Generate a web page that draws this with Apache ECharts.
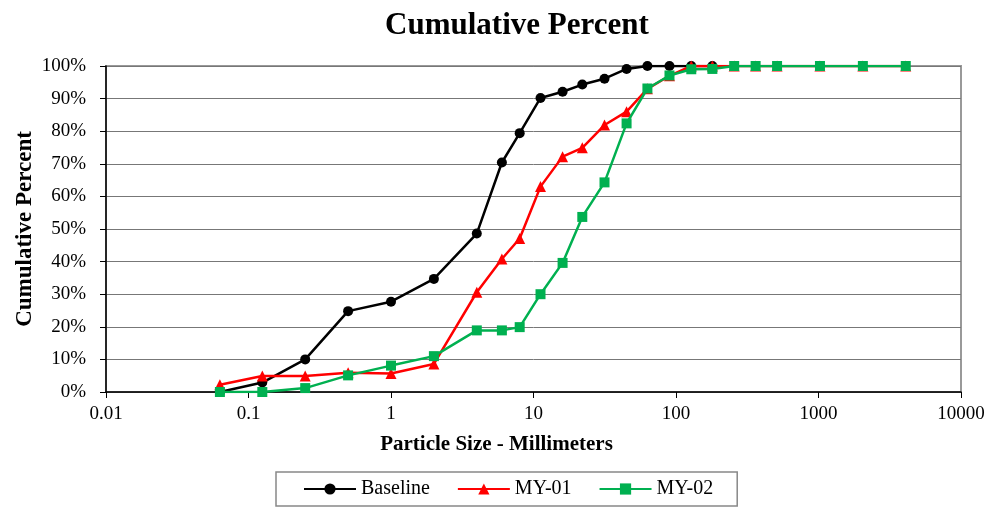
<!DOCTYPE html>
<html>
<head>
<meta charset="utf-8">
<script src="https://cdn.jsdelivr.net/npm/echarts@6/dist/echarts.min.js"></script>
<style>
  html, body { margin: 0; padding: 0; background: #fff; }
  #chart { width: 1003px; height: 507px; }
</style>
</head>
<body>
<div id="chart"></div>
<script>
// sieve sizes, mm
const sizes = [0.063, 0.125, 0.25, 0.5, 1, 2, 4, 6, 8, 11.2, 16, 22, 31.5, 45, 63, 90, 128, 180, 256, 362, 512, 1024, 2048, 4096]
// cumulative percent passing
const baseline = [0, 2.9, 10, 24.8, 27.7, 34.7, 48.6, 70.4, 79.4, 90.2, 92.1, 94.3, 96.1, 99.1, 100, 100, 100, 100]
const my01 = [2.2, 4.9, 4.9, 5.9, 5.7, 8.6, 30.6, 40.8, 47.1, 63, 72.2, 74.9, 81.9, 86, 93, 97, 100, 100, 100, 100, 100, 100, 100, 100]
const my02 = [0, 0, 1.2, 5.1, 8.1, 11, 18.9, 18.9, 19.9, 30, 39.6, 53.7, 64.3, 82.4, 93.1, 97.1, 99, 99.1, 100, 100, 100, 100, 100, 100]
const xTicks = ['0.01', '0.1', '1', '10', '100', '1000', '10000']

const font = "'Liberation Serif', 'Times New Roman', serif"

function pairs(vals) {
  return vals.map((v, i) => [sizes[i], v])
}

const chart = echarts.init(document.getElementById('chart'))

chart.setOption({
  animation: false,
  textStyle: { fontFamily: font },
  title: {
    text: 'Cumulative Percent',
    left: 380,
    top: 5,
    textStyle: { fontFamily: font, fontSize: 31, fontWeight: 'bold', color: '#000' },
  },
  grid: {
    left: 106,
    right: 42,
    top: 66,
    bottom: 115,
    show: true,
    borderColor: '#999',
    borderWidth: 2,
  },
  legend: {
    left: 276,
    top: 472,
    padding: [7, 24, 7, 27],
    itemGap: 27,
    itemWidth: 52,
    itemHeight: 14,
    borderColor: '#888',
    borderWidth: 1.5,
    textStyle: { fontFamily: font, fontSize: 20, color: '#000' },
    data: ['Baseline', 'MY-01', 'MY-02'],
  },
  xAxis: {
    type: 'log',
    logBase: 10,
    min: 0.01,
    max: 10000,
    name: 'Particle Size - Millimeters',
    nameLocation: 'middle',
    nameGap: 42,
    nameTextStyle: {
      fontFamily: font, fontSize: 21, fontWeight: 'bold', color: '#000',
      padding: [0, 74, 0, 0],
    },
    axisLine: { lineStyle: { color: '#000', width: 1.5 } },
    axisTick: { show: true, length: 6, lineStyle: { color: '#000' } },
    minorTick: { show: false },
    splitLine: { show: false },
    axisLabel: {
      fontFamily: font,
      fontSize: 19,
      color: '#000',
      margin: 13,
      formatter: v => {
        const i = Math.round(Math.log10(v)) + 2
        return xTicks[i] !== undefined ? xTicks[i] : ''
      },
    },
  },
  yAxis: {
    type: 'value',
    min: 0,
    max: 100,
    interval: 10,
    name: 'Cumulative Percent',
    nameLocation: 'middle',
    nameGap: 69,
    nameMoveOverlap: false,
    nameTextStyle: { fontFamily: font, fontSize: 23, fontWeight: 'bold', color: '#000' },
    axisLine: { show: true, lineStyle: { color: '#000', width: 1.5 } },
    axisTick: { show: true, length: 6, lineStyle: { color: '#000' } },
    splitLine: { lineStyle: { color: '#777', width: 1 } },
    axisLabel: {
      fontFamily: font,
      fontSize: 19,
      color: '#000',
      margin: 20,
      formatter: '{value}%',
    },
  },
  series: [
    {
      name: 'Baseline',
      type: 'line',
      data: pairs(baseline),
      symbol: 'circle',
      symbolSize: 10,
      lineStyle: { color: '#000', width: 2.5 },
      itemStyle: { color: '#000' },
      z: 2,
    },
    {
      name: 'MY-01',
      type: 'line',
      data: pairs(my01),
      symbol: 'triangle',
      symbolSize: 11,
      lineStyle: { color: '#ff0000', width: 2.5 },
      itemStyle: { color: '#ff0000' },
      z: 3,
    },
    {
      name: 'MY-02',
      type: 'line',
      data: pairs(my02),
      symbol: 'rect',
      symbolSize: 10,
      lineStyle: { color: '#00b050', width: 2.5 },
      itemStyle: { color: '#00b050' },
      z: 4,
    },
  ],
})
</script>
</body>
</html>
